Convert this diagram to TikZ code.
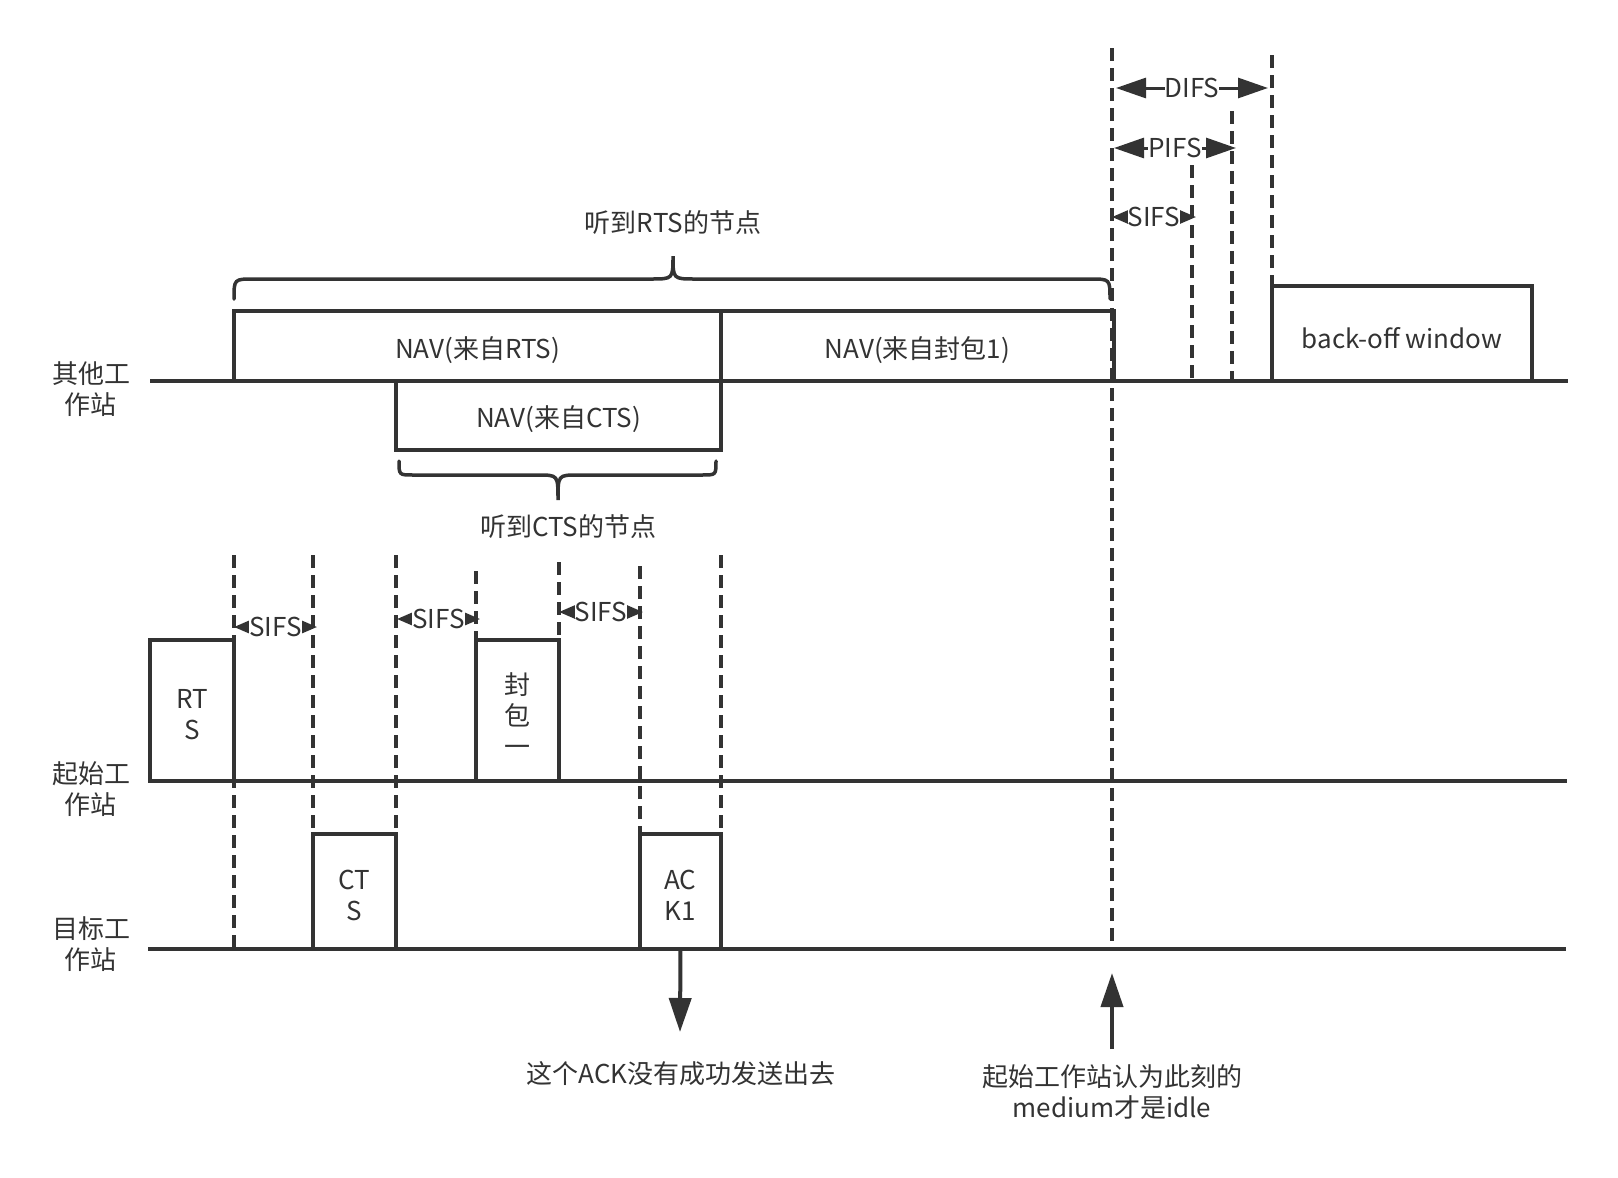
\documentclass[tikz,border=0pt]{standalone}
\usepackage{fontspec}
\setmainfont{Noto Sans CJK SC}
\usetikzlibrary{arrows.meta}
\definecolor{ink}{HTML}{333333}
\begin{document}
\begin{tikzpicture}[x=1pt,y=-1pt,
  lbl/.style={font=\fontsize{26}{31}\selectfont, text=ink, align=center, inner sep=0pt},
  intext/.style={lbl, yshift=-4pt},
  tline/.style={draw=ink, line width=3.5pt},
  dline/.style={draw=ink, line width=3.5pt, dash pattern=on 13pt off 7pt},
  frame/.style={draw=ink, line width=3.5pt, inner sep=0pt, outer sep=0pt, anchor=north west},
  bigdim/.style={draw=ink, line width=3pt, {Triangle[length=30pt,width=20pt]}-{Triangle[length=30pt,width=20pt]}},
  smalldim/.style={draw=ink, line width=2.5pt, {Triangle[length=16pt,width=13pt]}-{Triangle[length=16pt,width=13pt]}},
  dimtext/.style={font=\fontsize{26}{31}\selectfont, text=ink, fill=white, inner sep=0pt},
  brace/.style={draw=ink, line width=3.5pt, line cap=round},
  bigarrow/.style={draw=ink, line width=4pt, -{Triangle[length=34pt,width=22pt]}}]
\useasboundingbox (0,0) rectangle (1618,1178);

% timelines
\coordinate (l1a) at (150,381); \coordinate (l1b) at (1568,381);
\coordinate (l2a) at (149,781); \coordinate (l2b) at (1567,781);
\coordinate (l3a) at (148,949); \coordinate (l3b) at (1566,949);
\draw[tline] (l1a) -- (l1b);
\draw[tline] (l2a) -- (l2b);
\draw[tline] (l3a) -- (l3b);

% station labels
\node[lbl] (s1) at (91,389) {其他工\\作站};
\node[lbl] (s2) at (91,789) {起始工\\作站};
\node[lbl] (s3) at (91,944.5) {目标工\\作站};

% dashed verticals
\coordinate (v1a) at (234,555); \coordinate (v1b) at (234,947);
\coordinate (v2a) at (313,555); \coordinate (v2b) at (313,834);
\coordinate (v3a) at (396,555); \coordinate (v3b) at (396,834);
\coordinate (v4a) at (476,571); \coordinate (v4b) at (476,640);
\coordinate (v5a) at (559,562); \coordinate (v5b) at (559,640);
\coordinate (v6a) at (640,566); \coordinate (v6b) at (640,834);
\coordinate (v7a) at (721,555); \coordinate (v7b) at (721,834);
\coordinate (w1a) at (1112,48); \coordinate (w1b) at (1112,947);
\coordinate (w2a) at (1192,165); \coordinate (w2b) at (1192,381);
\coordinate (w3a) at (1232,111); \coordinate (w3b) at (1232,381);
\coordinate (w4a) at (1272,55); \coordinate (w4b) at (1272,286);
\foreach \v in {v1,v2,v3,v4,v5,v6,v7,w1,w2,w3,w4}
  \draw[dline] (\v a) -- (\v b);

% NAV boxes
\node[frame, minimum width=487pt, minimum height=70pt] (navrts) at (234,311) {};
\node[intext] (navrtst) at (navrts.center) {NAV(来自RTS)};
\node[frame, minimum width=393pt, minimum height=70pt] (navpkt) at (721,311) {};
\node[intext] (navpktt) at (navpkt.center) {NAV(来自封包1)};
\node[frame, minimum width=325pt, minimum height=69pt] (navcts) at (396,381) {};
\node[intext] (navctst) at (navcts.center) {NAV(来自CTS)};
\node[frame, minimum width=260pt, minimum height=95pt] (backoff) at (1272,286) {};
\node[intext, yshift=-1pt] (backofft) at (backoff.center) {back-off window};

% frames on timelines
\node[frame, minimum width=84pt, minimum height=141pt] (rts) at (150,640) {};
\node[intext] (rtst) at (rts.center) {RT\\S};
\node[frame, minimum width=83pt, minimum height=141pt] (pkt) at (476,640) {};
\node[intext] (pktt) at (pkt.center) {封\\包\\一};
\node[frame, minimum width=83pt, minimum height=115pt] (cts) at (313,834) {};
\node[intext] (ctst) at (cts.center) {CT\\S};
\node[frame, minimum width=81pt, minimum height=115pt] (ack) at (640,834) {};
\node[intext] (ackt) at (ack.center) {AC\\K1};

% braces
\draw[brace] (234,299) .. controls (234,279) .. (254,279) -- (651,279)
  .. controls (673,279) .. (673,256) .. controls (673,279) .. (695,279)
  -- (1090,279) .. controls (1110,279) .. (1110,299);
\node[lbl] (hrts) at (673,223) {听到RTS的节点};
\draw[brace] (399,461) .. controls (399,475) .. (413,475) -- (538,475)
  .. controls (558,475) .. (558,500) .. controls (558,475) .. (578,475)
  -- (702,475) .. controls (716,475) .. (716,461);
\node[lbl] (hcts) at (568,527) {听到CTS的节点};

% interval arrows (top right)
\coordinate (da) at (1116,88); \coordinate (db) at (1268,88);
\draw[bigdim] (da) -- node[dimtext] (difs) {DIFS} (db);
\coordinate (pa) at (1114,148); \coordinate (pb) at (1236,148);
\draw[bigdim] (pa) -- node[dimtext] (pifs) {PIFS} (pb);
\coordinate (sa) at (1112,217); \coordinate (sb) at (1196,217);
\draw[smalldim] (sa) -- node[dimtext] (sifs0) {SIFS} (sb);

% SIFS arrows (bottom)
\coordinate (s1a) at (234,627); \coordinate (s1b) at (317,627);
\draw[smalldim] (s1a) -- node[dimtext] (sifs1) {SIFS} (s1b);
\coordinate (s2a) at (397,619); \coordinate (s2b) at (480,619);
\draw[smalldim] (s2a) -- node[dimtext] (sifs2) {SIFS} (s2b);
\coordinate (s3a) at (559,612); \coordinate (s3b) at (643,612);
\draw[smalldim] (s3a) -- node[dimtext] (sifs3) {SIFS} (s3b);

% bottom notes
\coordinate (ackdown) at (680,1032);
\draw[bigarrow] (ack.south) -- (ackdown);
\node[lbl] (note1) at (681,1074) {这个ACK没有成功发送出去};
\coordinate (upfrom) at (1112,1049); \coordinate (upto) at (1112,973);
\draw[bigarrow] (upfrom) -- (upto);
\node[lbl] (note2) at (1112,1092) {起始工作站认为此刻的\\medium才是idle};
\end{tikzpicture}
\end{document}
